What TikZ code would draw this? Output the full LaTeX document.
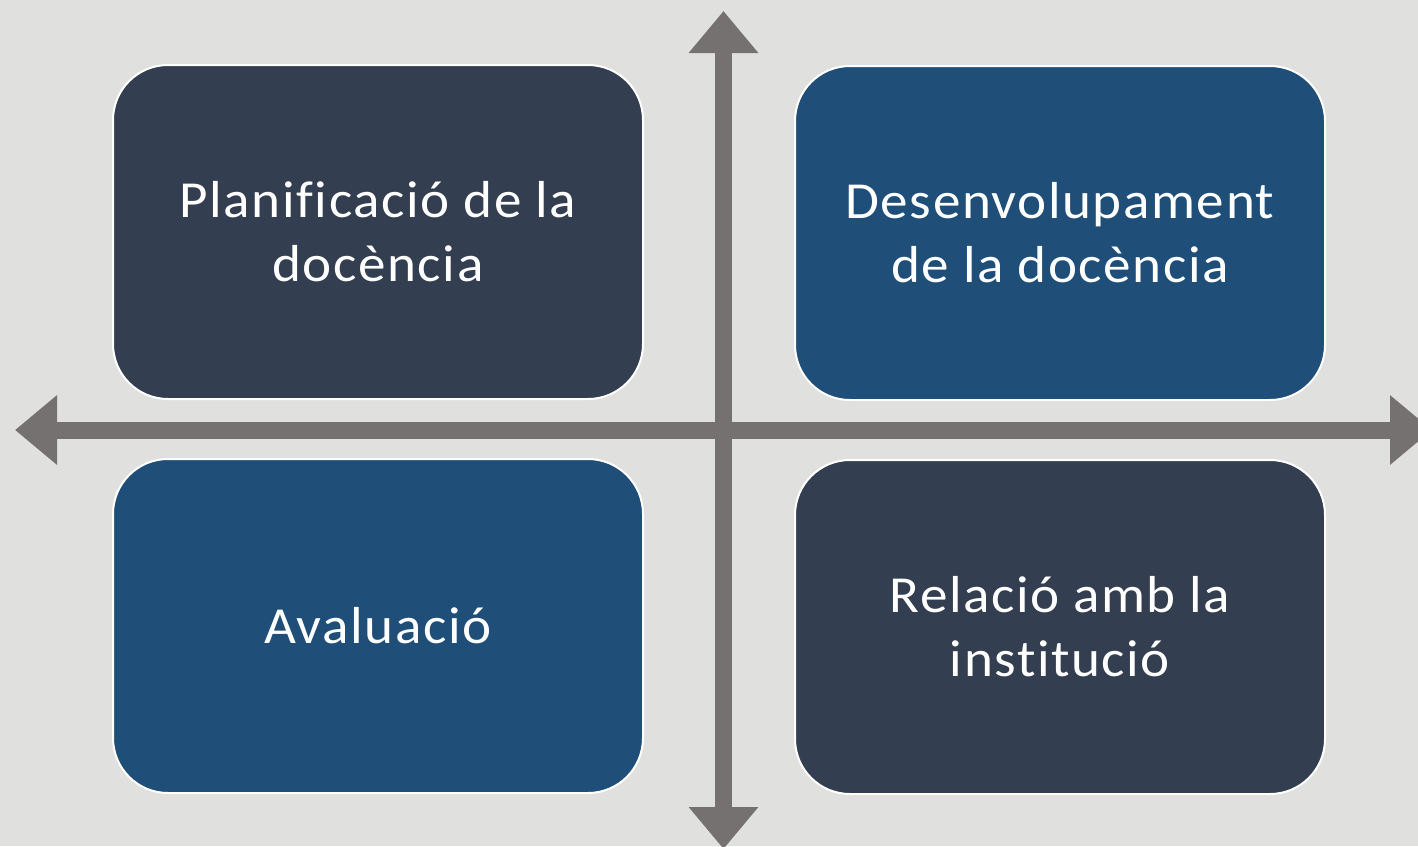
\documentclass[tikz,border=0pt]{standalone}
\usepackage{fontspec}
\setmainfont{Carlito}[Ligatures=NoCommon, FakeStretch=1.06, LetterSpace=3]
\usepackage{xcolor}
\usetikzlibrary{positioning}
\usetikzlibrary{arrows.meta}
\usetikzlibrary{math}

\definecolor{bggray}{HTML}{E0E0DE}
\definecolor{axisgray}{HTML}{767171}
\definecolor{darkslate}{HTML}{333F50}
\definecolor{deepblue}{HTML}{1F4E79}

\begin{document}
\begin{tikzpicture}[x=0.5pt,y=-0.5pt,
  >={Triangle[width=33.5pt,length=21pt]},
  axis/.style={draw=axisgray, line width=8.5pt, <->},
  quadrant/.style={draw=white, line width=1pt, rounded corners=27.5pt,
    minimum width=265pt, minimum height=167pt, inner sep=0pt,
    align=center, text=white, font=\fontsize{26}{32}\selectfont}]

  \tikzmath{
    \cx    = 723.5; % centre of the cross, horizontal
    \cy    = 430;   % centre of the cross, vertical
    \colL  = 378;   % centre of the left column
    \colR  = 1060;  % centre of the right column
    \rowU  = 232;   % centre of the upper row
    \rowD  = 626;   % centre of the lower row
  }

  % Background and page size
  \fill[bggray] (0,0) rectangle (1418,846);
  \useasboundingbox (0,0) rectangle (1418,846);

  % Ends of the axes
  \coordinate (N) at (\cx, 11);
  \coordinate (S) at (\cx, 849);
  \coordinate (W) at (15, \cy);
  \coordinate (E) at (1432, \cy);

  % Axes
  \draw[axis] (W) -- (E);
  \draw[axis] (S) -- (N);

  % Quadrants
  \node[quadrant, fill=darkslate] (plan) at (\colL, \rowU)
    {Planificació de la\\docència};
  \node[quadrant, fill=deepblue] (desen) at (\colR, \rowU+1)
    {Desenvolupament\\de la docència};
  \node[quadrant, fill=deepblue] (aval) at (\colL, \rowD)
    {Avaluació};
  \node[quadrant, fill=darkslate] (rel) at (\colR, \rowD+1)
    {Relació amb la\\institució};

\end{tikzpicture}
\end{document}
